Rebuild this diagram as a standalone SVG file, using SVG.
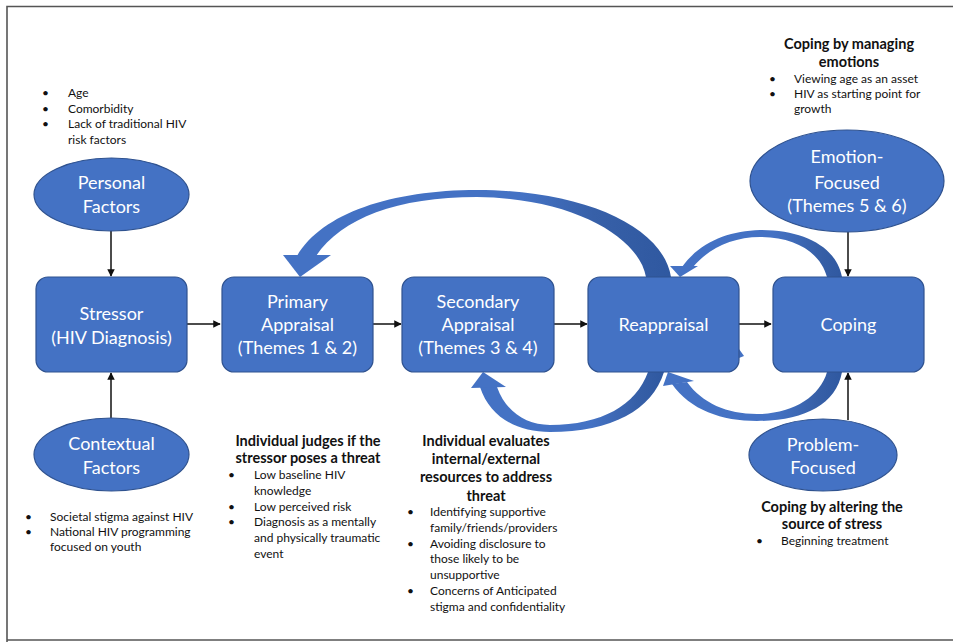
<svg xmlns="http://www.w3.org/2000/svg" width="953" height="642" viewBox="0 0 953 642">
<defs>
<style>
.box{fill:#4472C4;stroke:#2F528F;stroke-width:1.2}
.nt{font-family:Lato,"Open Sans","Liberation Sans",sans-serif;font-size:18px;fill:#ffffff;text-anchor:middle}
.t{font-family:Lato,"Open Sans","Liberation Sans",sans-serif;font-size:12px;fill:#111}
.h{font-family:Lato,"Open Sans","Liberation Sans",sans-serif;font-size:14.5px;font-weight:bold;fill:#111;text-anchor:middle}
.ln{stroke:#111;stroke-width:1.5;fill:none;marker-end:url(#ah)}
</style>
<marker id="ah" viewBox="0 0 10 10" refX="9" refY="5" markerWidth="5" markerHeight="5" orient="auto" markerUnits="strokeWidth">
<path d="M0,0 L10,5 L0,10 Z" fill="#111"/>
</marker>
<linearGradient id="g1" gradientUnits="userSpaceOnUse" x1="280" y1="0" x2="672" y2="0">
<stop offset="0" stop-color="#4472C4"/><stop offset="0.62" stop-color="#4472C4"/><stop offset="0.8" stop-color="#3760A8"/><stop offset="1" stop-color="#2F58A0"/>
</linearGradient>
<linearGradient id="g2" gradientUnits="userSpaceOnUse" x1="670" y1="0" x2="843" y2="0">
<stop offset="0" stop-color="#4472C4"/><stop offset="0.6" stop-color="#4472C4"/><stop offset="0.85" stop-color="#3760A8"/><stop offset="1" stop-color="#2F58A0"/>
</linearGradient>
<linearGradient id="g3" gradientUnits="userSpaceOnUse" x1="470" y1="0" x2="665" y2="0">
<stop offset="0" stop-color="#4472C4"/><stop offset="0.62" stop-color="#4472C4"/><stop offset="0.85" stop-color="#3760A8"/><stop offset="1" stop-color="#2F58A0"/>
</linearGradient>
<linearGradient id="g4" gradientUnits="userSpaceOnUse" x1="662" y1="0" x2="843" y2="0">
<stop offset="0" stop-color="#4472C4"/><stop offset="0.62" stop-color="#4472C4"/><stop offset="0.85" stop-color="#3760A8"/><stop offset="1" stop-color="#2F58A0"/>
</linearGradient>
</defs>
<rect x="0" y="0" width="953" height="642" fill="#ffffff"/>
<path d="M7,642 L7,6.5 L953,6.5 M7,640 L953,640" fill="none" stroke="#555" stroke-width="1.6"/>

<g id="connectors">
<line class="ln" x1="111" y1="231" x2="111" y2="276"/>
<line class="ln" x1="111" y1="418" x2="111" y2="373"/>
<line class="ln" x1="187" y1="324" x2="220" y2="324"/>
<line class="ln" x1="373" y1="324" x2="401" y2="324"/>
<line class="ln" x1="554" y1="324" x2="587" y2="324"/>
<line class="ln" x1="739" y1="324" x2="771" y2="324"/>
<line class="ln" x1="848" y1="232" x2="848" y2="276"/>
<line class="ln" x1="848" y1="420" x2="848" y2="373"/>
<g id="feedback-reappraisal-primary">
<path d="M297,256 C322,213 392,190 477,190 C582,190 663,226 671,277 L646,277 C639,237 573,198 477,197 C397,197 342,218 316,256 Z" fill="url(#g1)"/>
<path d="M283,255 L331,255 L300,277 Z" fill="#4472C4"/>
</g>
<g id="feedback-coping-reappraisal-top">
<path d="M682,267 C700,242 728,231 760,230 C803,230 836,246 842,277 L827,277 C820,252 795,237 760,237 C732,237 708,249 693,267 Z" fill="url(#g2)"/>
<path d="M670,266 L698,266 L680,277 Z" fill="#4472C4"/>
</g>
<g id="feedback-reappraisal-secondary">
<path d="M480,387 C490,418 518,432 550,432 C612,432 652,410 664,372 L648,372 C636,405 602,425 550,425 C526,425 506,412 497,387 Z" fill="url(#g3)"/>
<path d="M471,388 L506,387 L483,372 Z" fill="#4472C4"/>
</g>
<g id="feedback-coping-reappraisal-bottom">
<path d="M672,384 C690,410 722,421 757,421 C803,421 836,405 842,372 L827,372 C820,397 792,414 757,414 C727,414 702,403 687,382 Z" fill="url(#g4)"/>
<path d="M663,386 L694,381 L668,372 Z" fill="#4472C4"/>
</g>
<path d="M739,349 L744,356 L739,358 Z" fill="#4472C4"/>
</g>

<g id="personal-factors">
<ellipse class="box" cx="111.5" cy="194.5" rx="77.5" ry="36.5"/>
<text class="nt" x="111.5" y="189">Personal</text>
<text class="nt" x="111.5" y="213">Factors</text>
</g>
<g id="contextual-factors">
<ellipse class="box" cx="111.5" cy="454.5" rx="77.5" ry="36.5"/>
<text class="nt" x="111.5" y="450">Contextual</text>
<text class="nt" x="111.5" y="474">Factors</text>
</g>
<g id="stressor">
<rect class="box" x="36" y="277" width="151" height="95" rx="12"/>
<text class="nt" x="111.5" y="320">Stressor</text>
<text class="nt" x="111.5" y="344">(HIV Diagnosis)</text>
</g>
<g id="primary-appraisal">
<rect class="box" x="222" y="277" width="151" height="95" rx="12"/>
<text class="nt" x="297.5" y="308">Primary</text>
<text class="nt" x="297.5" y="331">Appraisal</text>
<text class="nt" x="297.5" y="354">(Themes 1 &amp; 2)</text>
</g>
<g id="secondary-appraisal">
<rect class="box" x="402" y="277" width="152" height="95" rx="12"/>
<text class="nt" x="478" y="308">Secondary</text>
<text class="nt" x="478" y="331">Appraisal</text>
<text class="nt" x="478" y="354">(Themes 3 &amp; 4)</text>
</g>
<g id="reappraisal">
<rect class="box" x="588" y="277" width="151" height="95" rx="12"/>
<text class="nt" x="663.5" y="331">Reappraisal</text>
</g>
<g id="coping">
<rect class="box" x="773" y="277" width="151" height="95" rx="12"/>
<text class="nt" x="848.5" y="331">Coping</text>
</g>
<g id="emotion-focused">
<ellipse class="box" cx="847" cy="181" rx="97" ry="51"/>
<text class="nt" x="847" y="163">Emotion-</text>
<text class="nt" x="847" y="189">Focused</text>
<text class="nt" x="847" y="212">(Themes 5 &amp; 6)</text>
</g>
<g id="problem-focused">
<ellipse class="box" cx="823" cy="455" rx="74" ry="36"/>
<text class="nt" x="823" y="451">Problem-</text>
<text class="nt" x="823" y="474">Focused</text>
</g>

<g id="personal-notes">
<text class="t" x="42" y="97">•</text><text class="t" x="68" y="97">Age</text>
<text class="t" x="42" y="113">•</text><text class="t" x="68" y="113">Comorbidity</text>
<text class="t" x="42" y="128">•</text><text class="t" x="68" y="128">Lack of traditional HIV</text>
<text class="t" x="68" y="144">risk factors</text>
</g>
<g id="contextual-notes">
<text class="t" x="25" y="521">•</text><text class="t" x="50" y="521">Societal stigma against HIV</text>
<text class="t" x="25" y="536">•</text><text class="t" x="50" y="536">National HIV programming</text>
<text class="t" x="50" y="551">focused on youth</text>
</g>
<g id="primary-notes">
<text class="h" x="308" y="446">Individual judges if the</text>
<text class="h" x="308" y="463">stressor poses a threat</text>
<text class="t" x="228" y="479">•</text><text class="t" x="254" y="479">Low baseline HIV</text>
<text class="t" x="254" y="495">knowledge</text>
<text class="t" x="228" y="511">•</text><text class="t" x="254" y="511">Low perceived risk</text>
<text class="t" x="228" y="526">•</text><text class="t" x="254" y="526">Diagnosis as a mentally</text>
<text class="t" x="254" y="542">and physically traumatic</text>
<text class="t" x="254" y="558">event</text>
</g>
<g id="secondary-notes">
<text class="h" x="486" y="446">Individual evaluates</text>
<text class="h" x="486" y="464">internal/external</text>
<text class="h" x="486" y="482">resources to address</text>
<text class="h" x="486" y="501">threat</text>
<text class="t" x="407" y="516">•</text><text class="t" x="430" y="516">Identifying supportive</text>
<text class="t" x="430" y="532">family/friends/providers</text>
<text class="t" x="407" y="548">•</text><text class="t" x="430" y="548">Avoiding disclosure  to</text>
<text class="t" x="430" y="563">those likely to be</text>
<text class="t" x="430" y="579">unsupportive</text>
<text class="t" x="407" y="595">•</text><text class="t" x="430" y="595">Concerns of Anticipated</text>
<text class="t" x="430" y="611">stigma and confidentiality</text>
</g>
<g id="problem-notes">
<text class="h" x="832" y="512">Coping by altering the</text>
<text class="h" x="832" y="529">source of stress</text>
<text class="t" x="756" y="545">•</text><text class="t" x="781" y="545">Beginning treatment</text>
</g>
<g id="emotion-notes">
<text class="h" x="849" y="49">Coping by managing</text>
<text class="h" x="849" y="67">emotions</text>
<text class="t" x="769" y="83">•</text><text class="t" x="794" y="83">Viewing age as an asset</text>
<text class="t" x="769" y="98">•</text><text class="t" x="794" y="98">HIV as starting point for</text>
<text class="t" x="794" y="113">growth</text>
</g>
</svg>
